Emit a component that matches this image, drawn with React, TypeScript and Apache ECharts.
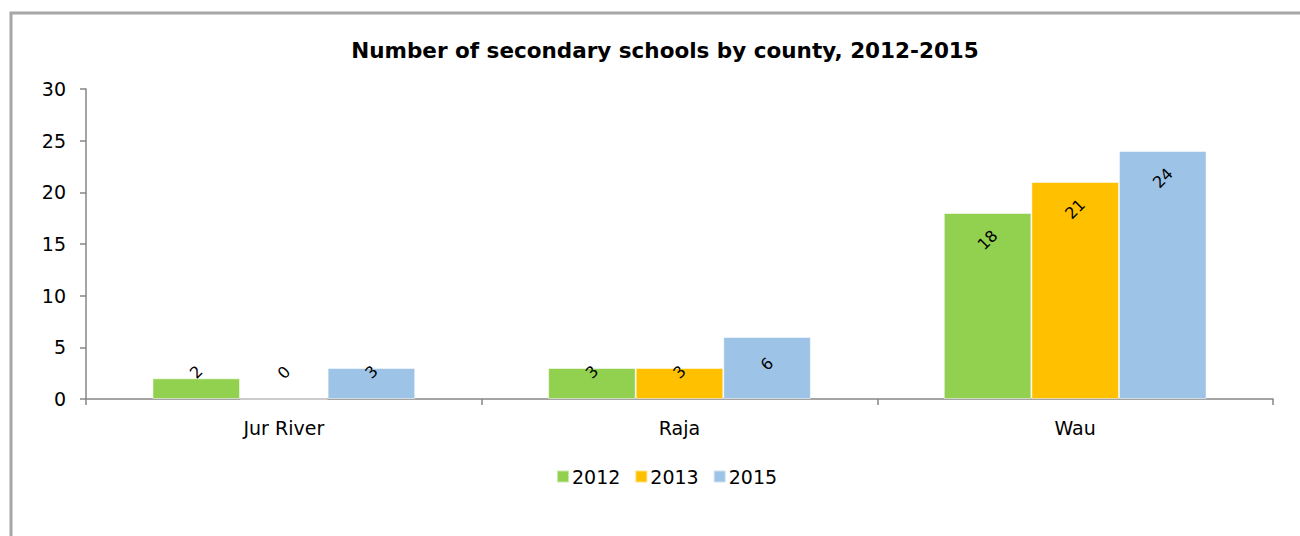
import React, { useEffect, useRef } from "react";
import * as echarts from "echarts";

const categories = ["Jur River", "Raja", "Wau"];
const years = ["2012", "2013", "2015"];
const values2012 = [2, 3, 18];
const values2013 = [0, 3, 21];
const values2015 = [3, 6, 24];
const colors = ["#92d050", "#ffc000", "#9dc3e6"];

const FONT = "DejaVu Sans";

function buildData(vals: number[]) {
  return vals.map((v) => ({
    value: v,
    label: v >= 5 ? { position: "insideTop", distance: 27 } : { position: "insideBottom", distance: 27 },
  }));
}

export default function App() {
  const ref = useRef<HTMLDivElement>(null);
  useEffect(() => {
    document.body.style.margin = "0";
    document.body.style.overflow = "hidden";
    const chart = echarts.init(ref.current!, undefined, { renderer: "svg" });
    const seriesVals = [values2012, values2013, values2015];
    chart.setOption({
      animation: false,
      backgroundColor: "#ffffff",
      title: {
        text: "Number of secondary schools by county, 2012-2015",
        left: 660,
        textAlign: "center",
        top: 34,
        textStyle: { fontFamily: FONT, fontSize: 21.5, fontWeight: "bold", color: "#000" },
      },
      graphic: [
        {
          type: "rect",
          shape: { x: 11, y: 13, width: 1400, height: 700 },
          style: { fill: "none", stroke: "#a6a6a6", lineWidth: 3 },
          silent: true,
        },
      ],
      legend: {
        data: years,
        left: 551,
        top: 462,
        itemWidth: 12,
        itemHeight: 12,
        itemGap: 14,
        icon: "rect",
        textStyle: { fontFamily: FONT, fontSize: 19, color: "#000", padding: [0, 0, 0, -2] },
      },
      grid: { left: 86, right: 27, top: 89, bottom: 137, containLabel: false },
      xAxis: {
        type: "category",
        data: categories,
        axisLine: { lineStyle: { color: "#868686", width: 1.5 } },
        axisTick: { show: true, length: 6, lineStyle: { color: "#868686", width: 1.5 } },
        axisLabel: { fontFamily: FONT, fontSize: 19, color: "#000", margin: 19 },
      },
      yAxis: {
        type: "value",
        min: 0,
        max: 30,
        interval: 5,
        splitLine: { show: false },
        axisLine: { show: true, lineStyle: { color: "#868686", width: 1.5 } },
        axisTick: { show: true, length: 6, lineStyle: { color: "#868686", width: 1.5 } },
        axisLabel: { fontFamily: FONT, fontSize: 19, color: "#000", margin: 20 },
      },
      series: years.map((y, i) => ({
        name: y,
        type: "bar",
        data: buildData(seriesVals[i]),
        barGap: "0%",
        barCategoryGap: "33.6%",
        itemStyle: { color: colors[i], borderColor: "rgba(255,255,255,0.5)", borderWidth: 1 },
        label: {
          show: true,
          rotate: 45,
          align: "center",
          verticalAlign: "middle",
          fontFamily: FONT,
          fontSize: 16,
          color: "#000",
        },
      })),
    });
    return () => chart.dispose();
  }, []);
  return <div ref={ref} style={{ width: 1300, height: 536 }} />;
}
